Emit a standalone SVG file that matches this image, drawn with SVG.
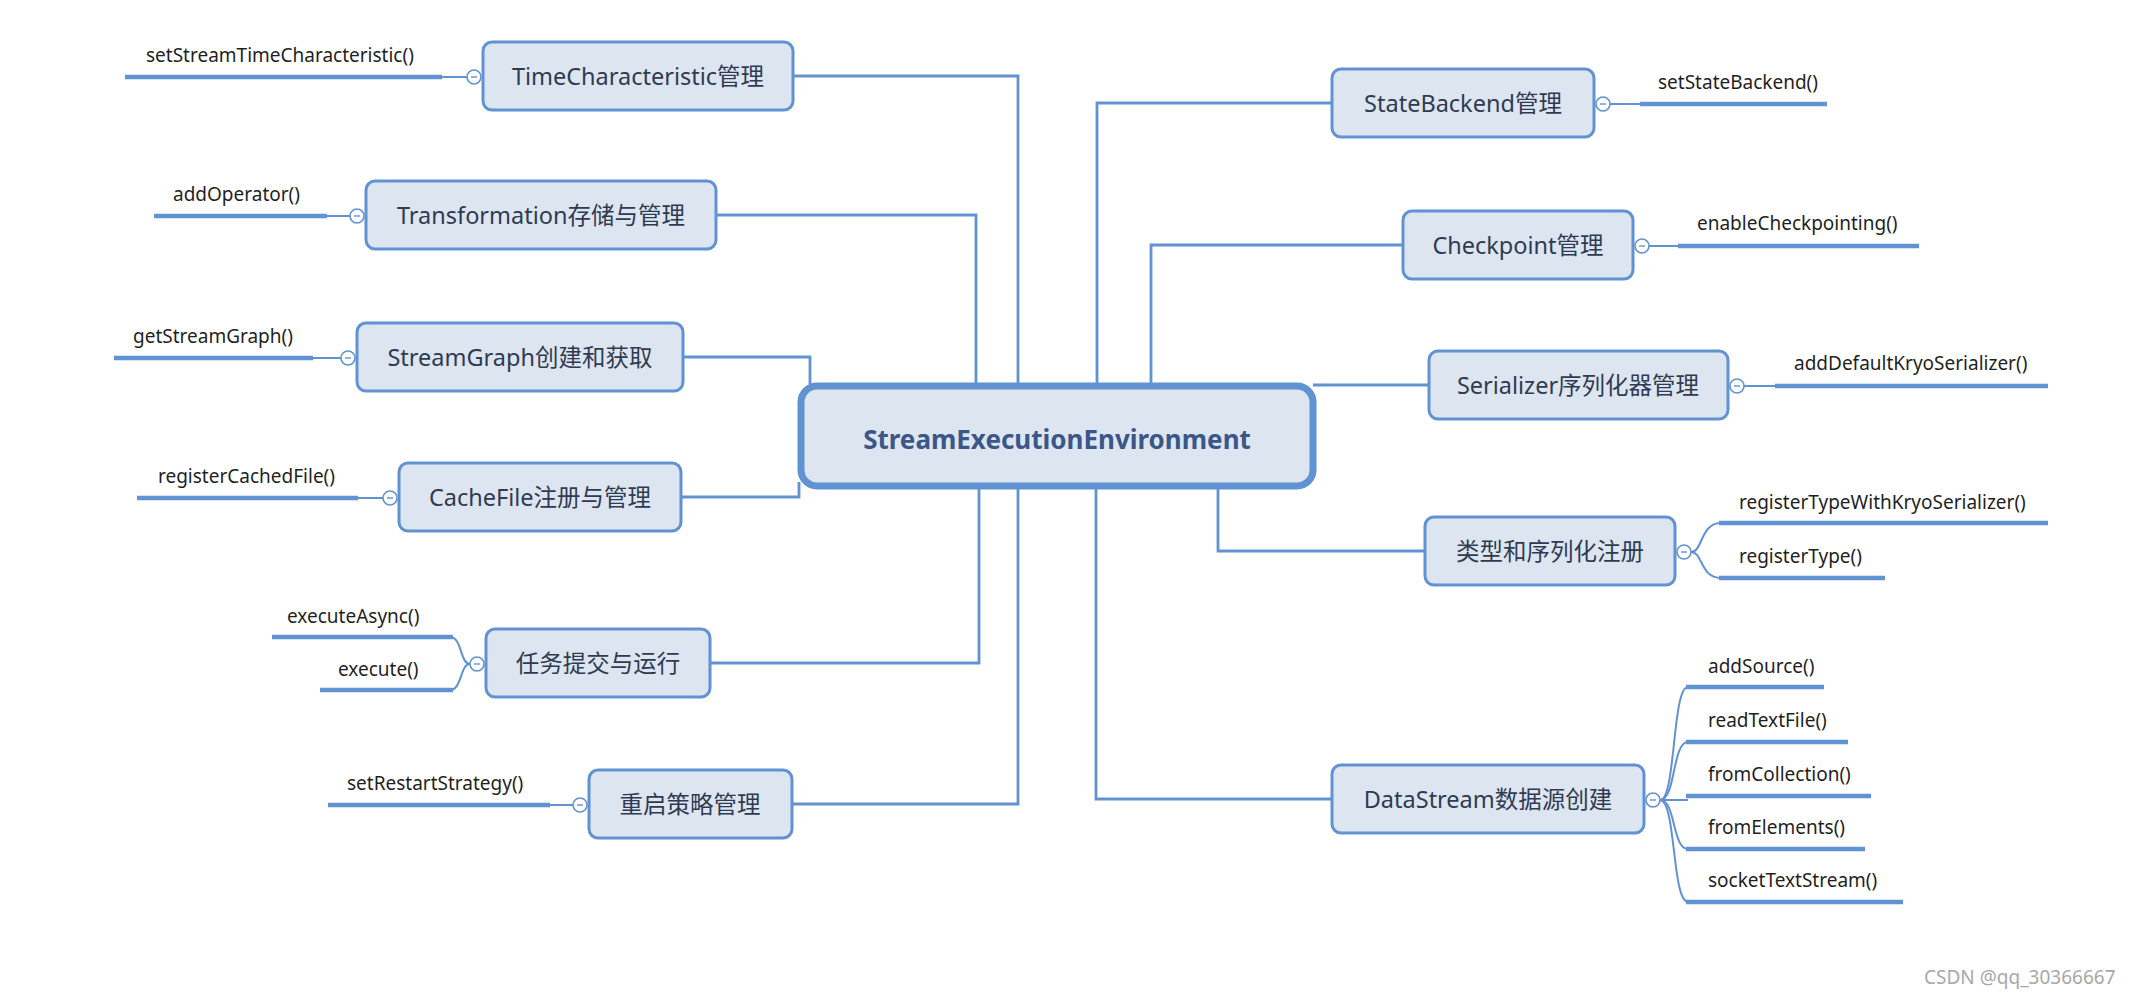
<svg xmlns="http://www.w3.org/2000/svg" width="2134" height="998" viewBox="0 0 2134 998">
<style>
.bg{fill:#ffffff}
.box{fill:#dde5f0;stroke:#6192d2;stroke-width:3}
.cbox{fill:#dde5f0;stroke:#6192d2;stroke-width:7}
.nt{font-family:"Noto Sans","Noto Sans CJK SC",sans-serif;font-size:23.5px;fill:#2f3b52;text-anchor:middle;dominant-baseline:central}
.ct{font-family:"Noto Sans","Noto Sans CJK SC",sans-serif;font-size:26px;font-weight:bold;fill:#3a5788;text-anchor:middle;dominant-baseline:central}
.lb{font-family:"Noto Sans",sans-serif;font-size:19px;fill:#1f1f1f}
.con{fill:none;stroke:#6192d2;stroke-width:2.8}
.thick{fill:none;stroke:#6192d2;stroke-width:4.5}
.thin{fill:none;stroke:#6192d2;stroke-width:2}
.tog{fill:#ffffff;stroke:#6192d2;stroke-width:1.6}
.dash{stroke:#6192d2;stroke-width:1.4}
.wm{font-family:"Noto Sans",sans-serif;font-size:19px;fill:#a8a8a8}
</style>
<defs>
<g id="tg"><circle class="tog" cx="0" cy="0" r="7"/><line class="dash" x1="-3" y1="0" x2="3" y2="0"/></g>
</defs>
<rect class="bg" x="0" y="0" width="2134" height="998"/>

<g id="connectors">
<path class="con" d="M793,76 H1018 V384"/>
<path class="con" d="M716,215 H976 V384"/>
<path class="con" d="M683,357 H810 V384"/>
<path class="con" d="M681,497 H799 V482"/>
<path class="con" d="M710,663 H979 V488"/>
<path class="con" d="M792,804 H1018 V488"/>
<path class="con" d="M1332,103 H1097 V384"/>
<path class="con" d="M1403,245 H1151 V384"/>
<path class="con" d="M1429,385 H1313"/>
<path class="con" d="M1425,551 H1218 V488"/>
<path class="con" d="M1332,799 H1096 V488"/>
</g>

<g id="center">
<rect class="cbox" x="801" y="386" width="512" height="100" rx="16"/>
<text class="ct" x="1057" y="439">StreamExecutionEnvironment</text>
</g>

<g id="n-timechar">
<rect class="box" x="483" y="42" width="310" height="68" rx="9"/>
<text class="nt" x="638" y="76">TimeCharacteristic管理</text>
<path class="thick" d="M125,77 H442"/><path class="thin" d="M442,77 H467"/>
<use href="#tg" x="474" y="77"/>
<text class="lb" x="146" y="62">setStreamTimeCharacteristic()</text>
</g>

<g id="n-transformation">
<rect class="box" x="366" y="181" width="350" height="68" rx="9"/>
<text class="nt" x="541" y="215">Transformation存储与管理</text>
<path class="thick" d="M154,216 H327"/><path class="thin" d="M327,216 H350"/>
<use href="#tg" x="357" y="216"/>
<text class="lb" x="173" y="201">addOperator()</text>
</g>

<g id="n-streamgraph">
<rect class="box" x="357" y="323" width="326" height="68" rx="9"/>
<text class="nt" x="520" y="357">StreamGraph创建和获取</text>
<path class="thick" d="M114,358 H313"/><path class="thin" d="M313,358 H341"/>
<use href="#tg" x="348" y="358"/>
<text class="lb" x="133" y="343">getStreamGraph()</text>
</g>

<g id="n-cachefile">
<rect class="box" x="399" y="463" width="282" height="68" rx="9"/>
<text class="nt" x="540" y="497">CacheFile注册与管理</text>
<path class="thick" d="M137,498 H358"/><path class="thin" d="M358,498 H383"/>
<use href="#tg" x="390" y="498"/>
<text class="lb" x="158" y="483">registerCachedFile()</text>
</g>

<g id="n-execute">
<rect class="box" x="486" y="629" width="224" height="68" rx="9"/>
<text class="nt" x="598" y="663">任务提交与运行</text>
<path class="thin" d="M470,664 C460,664 462,637 450,637"/>
<path class="thin" d="M470,664 C460,664 462,690 450,690"/>
<path class="thick" d="M272,637 H453"/>
<path class="thick" d="M320,690 H453"/>
<use href="#tg" x="477" y="664"/>
<text class="lb" x="287" y="623">executeAsync()</text>
<text class="lb" x="338" y="676">execute()</text>
</g>

<g id="n-restart">
<rect class="box" x="589" y="770" width="203" height="68" rx="9"/>
<text class="nt" x="690" y="804">重启策略管理</text>
<path class="thick" d="M328,805 H550"/><path class="thin" d="M550,805 H573"/>
<use href="#tg" x="580" y="805"/>
<text class="lb" x="347" y="790">setRestartStrategy()</text>
</g>

<g id="n-statebackend">
<rect class="box" x="1332" y="69" width="262" height="68" rx="9"/>
<text class="nt" x="1463" y="103">StateBackend管理</text>
<use href="#tg" x="1603" y="104"/>
<path class="thin" d="M1610,104 H1640"/><path class="thick" d="M1640,104 H1827"/>
<text class="lb" x="1658" y="89">setStateBackend()</text>
</g>

<g id="n-checkpoint">
<rect class="box" x="1403" y="211" width="230" height="68" rx="9"/>
<text class="nt" x="1518" y="245">Checkpoint管理</text>
<use href="#tg" x="1642" y="246"/>
<path class="thin" d="M1649,246 H1678"/><path class="thick" d="M1678,246 H1919"/>
<text class="lb" x="1697" y="230">enableCheckpointing()</text>
</g>

<g id="n-serializer">
<rect class="box" x="1429" y="351" width="299" height="68" rx="9"/>
<text class="nt" x="1578" y="385">Serializer序列化器管理</text>
<use href="#tg" x="1737" y="386"/>
<path class="thin" d="M1744,386 H1775"/><path class="thick" d="M1775,386 H2048"/>
<text class="lb" x="1794" y="370">addDefaultKryoSerializer()</text>
</g>

<g id="n-typereg">
<rect class="box" x="1425" y="517" width="250" height="68" rx="9"/>
<text class="nt" x="1550" y="551">类型和序列化注册</text>
<path class="thin" d="M1691,552 C1703,552 1700,523 1721,523"/>
<path class="thin" d="M1691,552 C1703,552 1700,578 1721,578"/>
<path class="thick" d="M1719,523 H2048"/>
<path class="thick" d="M1719,578 H1885"/>
<use href="#tg" x="1684" y="552"/>
<text class="lb" x="1739" y="509">registerTypeWithKryoSerializer()</text>
<text class="lb" x="1739" y="563">registerType()</text>
</g>

<g id="n-datastream">
<rect class="box" x="1332" y="765" width="312" height="68" rx="9"/>
<text class="nt" x="1488" y="799">DataStream数据源创建</text>
<path class="thin" d="M1660,800 C1676,800 1672,687 1688,687"/>
<path class="thin" d="M1660,800 C1676,800 1672,742 1688,742"/>
<path class="thin" d="M1660,800 H1688"/>
<path class="thin" d="M1660,800 C1676,800 1672,849 1688,849"/>
<path class="thin" d="M1660,800 C1676,800 1672,902 1688,902"/>
<path class="thick" d="M1686,687 H1824"/>
<path class="thick" d="M1686,742 H1848"/>
<path class="thick" d="M1686,796 H1871"/>
<path class="thick" d="M1686,849 H1865"/>
<path class="thick" d="M1686,902 H1903"/>
<use href="#tg" x="1653" y="800"/>
<text class="lb" x="1708" y="673">addSource()</text>
<text class="lb" x="1708" y="727">readTextFile()</text>
<text class="lb" x="1708" y="781">fromCollection()</text>
<text class="lb" x="1708" y="834">fromElements()</text>
<text class="lb" x="1708" y="887">socketTextStream()</text>
</g>

<text class="wm" x="1924" y="984">CSDN @qq_30366667</text>
</svg>
